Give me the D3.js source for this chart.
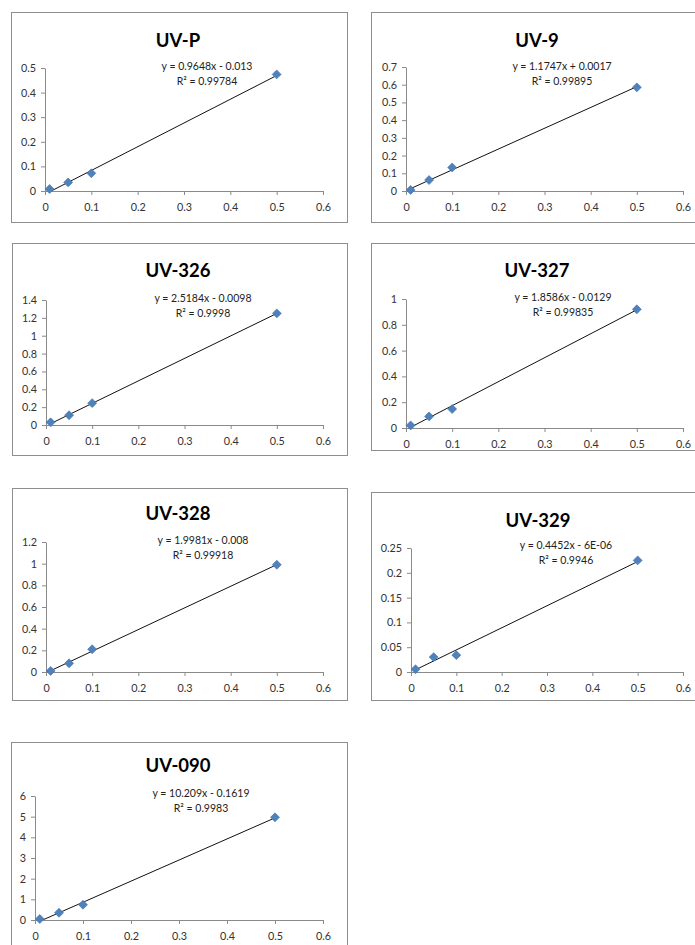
<!DOCTYPE html>
<html>
<head>
<meta charset="utf-8">
<script src="https://cdn.jsdelivr.net/npm/d3@7"></script>
<style>
body { margin: 0; background: #fff; }
text { font-family: Lato, "Open Sans", sans-serif; }
</style>
</head>
<body>
<div id="chart-area"></div>
<script>
// concentrations on the x axis (same for every compound)
var concentrations = [0.01, 0.05, 0.1, 0.5];
var xTicks = [0, 0.1, 0.2, 0.3, 0.4, 0.5, 0.6];

var names = ["UV-P", "UV-9", "UV-326", "UV-327", "UV-328", "UV-329", "UV-090"];

// measured responses
var uvP   = [0.008, 0.035, 0.072, 0.474];
var uv9   = [0.006, 0.062, 0.133, 0.585];
var uv326 = [0.03, 0.11, 0.245, 1.25];
var uv327 = [0.02, 0.09, 0.147, 0.92];
var uv328 = [0.01, 0.08, 0.21, 0.99];
var uv329 = [0.0055, 0.03, 0.034, 0.225];
var uv090 = [0.05, 0.35, 0.74, 4.97];

// linear trendlines as printed on the charts
var slopes     = [0.9648, 1.1747, 2.5184, 1.8586, 1.9981, 0.4452, 10.209];
var intercepts = [-0.013, 0.0017, -0.0098, -0.0129, -0.008, -0.000006, -0.1619];
var equations  = ["y = 0.9648x - 0.013", "y = 1.1747x + 0.0017", "y = 2.5184x - 0.0098",
                  "y = 1.8586x - 0.0129", "y = 1.9981x - 0.008", "y = 0.4452x - 6E-06",
                  "y = 10.209x - 0.1619"];
var rSquared   = ["0.99784", "0.99895", "0.9998", "0.99835", "0.99918", "0.9946", "0.9983"];

// y axis tick labels
var yTicksList = [
  [0, 0.1, 0.2, 0.3, 0.4, 0.5],
  [0, 0.1, 0.2, 0.3, 0.4, 0.5, 0.6, 0.7],
  [0, 0.2, 0.4, 0.6, 0.8, 1, 1.2, 1.4],
  [0, 0.2, 0.4, 0.6, 0.8, 1],
  [0, 0.2, 0.4, 0.6, 0.8, 1, 1.2],
  [0, 0.05, 0.1, 0.15, 0.2, 0.25],
  [0, 1, 2, 3, 4, 5, 6]
];

var seriesList = [uvP, uv9, uv326, uv327, uv328, uv329, uv090];

// where each little chart sits on the page
var layouts = [
  {box: [11, 12, 336, 210],  plot: [45, 323, 68, 191],   title: [178, 47],  eq: [207, 70]},
  {box: [371, 12, 336, 210], plot: [406, 683, 67, 191],  title: [537, 47],  eq: [562, 70]},
  {box: [12, 243, 335, 212], plot: [46, 323, 300, 425],  title: [178, 277], eq: [203, 302]},
  {box: [371, 243, 336, 207],plot: [406, 683, 299, 428], title: [537, 277], eq: [563, 301]},
  {box: [12, 488, 335, 212], plot: [46, 323, 542, 672],  title: [178, 520], eq: [203, 544]},
  {box: [371, 492, 336, 208],plot: [411, 683, 548, 672], title: [538, 527], eq: [566, 549]},
  {box: [11, 742, 336, 220], plot: [35, 323, 796, 920],  title: [178, 772], eq: [201, 797]}
];

var width = 695;
var height = 945;

var svg = d3.select("#chart-area").append("svg")
  .attr("width", width)
  .attr("height", height);

var fmt = function(d){ return String(+d.toFixed(3)); };

names.forEach(function(name, i){
  var lay = layouts[i];
  var values = seriesList[i];
  var yTicks = yTicksList[i];
  var g = svg.append("g");

  g.append("rect")
    .attr("x", lay.box[0] + 0.5)
    .attr("y", lay.box[1] + 0.5)
    .attr("width", lay.box[2])
    .attr("height", lay.box[3])
    .attr("fill", "#fff")
    .attr("stroke", "#8e8e8e");

  var x = d3.scaleLinear()
    .domain([0, 0.6])
    .range([lay.plot[0], lay.plot[1]]);
  var y = d3.scaleLinear()
    .domain([0, yTicks[yTicks.length - 1]])
    .range([lay.plot[3], lay.plot[2]]);

  var bottomAxis = d3.axisBottom(x)
    .tickValues(xTicks)
    .tickSize(4)
    .tickSizeOuter(0)
    .tickPadding(8)
    .tickFormat(fmt);
  var xg = g.append("g")
    .attr("transform", "translate(0," + lay.plot[3] + ")")
    .call(bottomAxis);

  var leftAxis = d3.axisLeft(y)
    .tickValues(yTicks)
    .tickSize(4)
    .tickSizeOuter(0)
    .tickPadding(5)
    .tickFormat(fmt);
  var yg = g.append("g")
    .attr("transform", "translate(" + lay.plot[0] + ",0)")
    .call(leftAxis);

  [xg, yg].forEach(function(a){
    a.selectAll("path, line").attr("stroke", "#8a8a8a");
    a.selectAll("text")
      .attr("fill", "#333")
      .attr("font-size", "10.8px")
      .style("font-family", "Lato, 'Open Sans', sans-serif");
  });

  // trendline, clipped to the plot area like Excel does
  g.append("clipPath")
    .attr("id", "clip" + i)
    .append("rect")
    .attr("x", lay.plot[0])
    .attr("y", lay.plot[2])
    .attr("width", lay.plot[1] - lay.plot[0])
    .attr("height", lay.plot[3] - lay.plot[2]);

  var xMin = d3.min(concentrations), xMax = d3.max(concentrations);
  g.append("line")
    .attr("clip-path", "url(#clip" + i + ")")
    .attr("x1", x(xMin))
    .attr("y1", y(slopes[i] * xMin + intercepts[i]))
    .attr("x2", x(xMax))
    .attr("y2", y(slopes[i] * xMax + intercepts[i]))
    .attr("stroke", "#111")
    .attr("stroke-width", 1);

  var diamond = d3.symbol().type(d3.symbolSquare).size(40);
  g.selectAll("path.pt")
    .data(concentrations)
    .enter()
    .append("path")
    .attr("class", "pt")
    .attr("d", diamond)
    .attr("transform", function(d, j){
      return "translate(" + x(d) + "," + y(values[j]) + ") rotate(45)";
    })
    .attr("fill", "#4f81bd")
    .attr("stroke", "#4273ad")
    .attr("stroke-width", 0.6);

  g.append("text")
    .attr("x", lay.title[0])
    .attr("y", lay.title[1])
    .attr("text-anchor", "middle")
    .attr("font-size", "18.5px")
    .attr("font-weight", "bold")
    .attr("fill", "#000")
    .text(name);

  g.append("text")
    .attr("x", lay.eq[0])
    .attr("y", lay.eq[1])
    .attr("text-anchor", "middle")
    .attr("font-size", "10.5px")
    .attr("fill", "#222")
    .text(equations[i]);

  g.append("text")
    .attr("x", lay.eq[0])
    .attr("y", lay.eq[1] + 14.5)
    .attr("text-anchor", "middle")
    .attr("font-size", "10.5px")
    .attr("fill", "#222")
    .text("R\u00B2 = " + rSquared[i]);
});
</script>
</body>
</html>
